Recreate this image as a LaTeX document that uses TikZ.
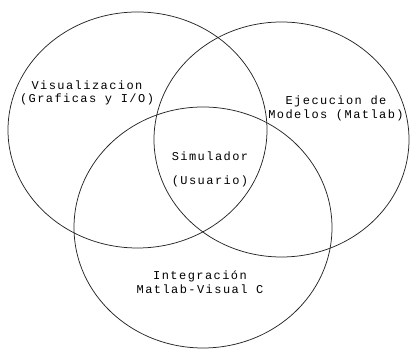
\documentclass[tikz,border=0pt]{standalone}
\usepackage{fontspec}
\newfontfamily\vennfont[LetterSpace=12]{Liberation Mono}
\usetikzlibrary{shapes.geometric}

\begin{document}
\begin{tikzpicture}[
  x=1pt, y=1pt,
  set/.style={draw=black!85, ellipse, line width=0.75pt, inner sep=0pt},
  lbl/.style={align=center, inner sep=0pt,
              font=\vennfont\fontsize{12}{14}\selectfont}]

  \useasboundingbox (0,0) rectangle (410,350);

  % the three sets
  \node[set, minimum width=259pt, minimum height=236pt] (vis) at (137.5,220) {};
  \node[set, minimum width=255pt, minimum height=235pt] (eje) at (281.5,210.5) {};
  \node[set, minimum width=258pt, minimum height=241pt] (integ) at (203,122.5) {};

  % labels
  \node[lbl, font=\vennfont\fontsize{12}{12.5}\selectfont] (visl) at (87,257)
    {Visualizacion\\(Graficas y I/O)};
  \node[lbl] (ejel) at (336,242) {Ejecucion de\\Modelos (Matlab)};
  \node[lbl] (siml) at (210,181) {Simulador\\[10pt](Usuario)};
  \node[lbl] (integl) at (200,67.5) {Integración\\Matlab-Visual C};
\end{tikzpicture}
\end{document}
